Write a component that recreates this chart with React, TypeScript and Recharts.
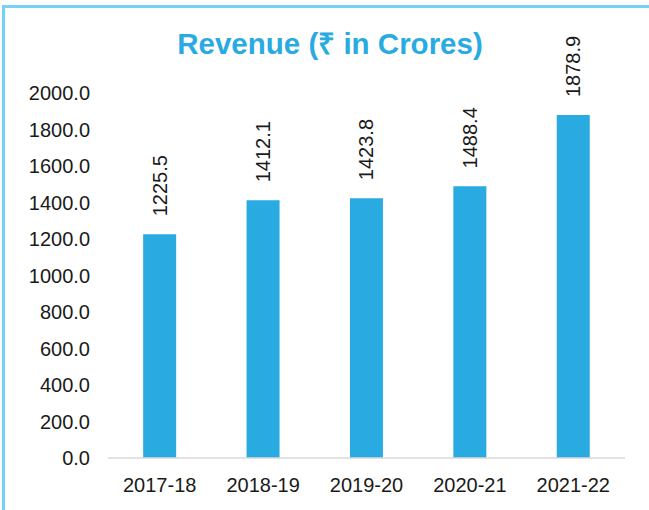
import { BarChart, Bar, XAxis, YAxis, LabelList } from 'recharts'

const years = ['2017-18', '2018-19', '2019-20', '2020-21', '2021-22']
const revenue = [1225.5, 1412.1, 1423.8, 1488.4, 1878.9]
const yTicks = [0, 200, 400, 600, 800, 1000, 1200, 1400, 1600, 1800, 2000]

const data = years.map((y, i) => ({ year: y, value: revenue[i] }))

const FONT = 'Liberation Sans, Arial, sans-serif'

// eslint-disable-next-line @typescript-eslint/no-explicit-any
function RotatedLabel(props: any) {
  const { x, y, width, value } = props
  const cx = x + width / 2
  const ty = y - 18
  return (
    <text
      x={cx}
      y={ty}
      transform={`rotate(-90, ${cx}, ${ty})`}
      textAnchor="start"
      dominantBaseline="central"
      fontFamily={FONT}
      fontSize={20}
      fill="#1a1a1a"
    >
      {Number(value).toFixed(1)}
    </text>
  )
}

export default function App() {
  return (
    <div style={{ position: 'fixed', left: 0, top: 0, width: 649, height: 510, background: '#fff' }}>
      <div
        style={{
          position: 'absolute',
          left: 2,
          top: 5,
          width: 647,
          height: 505,
          borderTop: '3px solid #74d2f6',
          borderLeft: '3px solid #74d2f6',
          boxSizing: 'border-box',
        }}
      />
      <div
        style={{
          position: 'absolute',
          left: 0,
          width: 660,
          top: 22,
          textAlign: 'center',
          fontFamily: FONT,
          fontWeight: 'bold',
          fontSize: 29.5,
          color: '#29abe2',
        }}
      >
        Revenue (₹ in Crores)
      </div>
      <div style={{ position: 'absolute', left: 0, top: 0 }}>
        <BarChart
          width={649}
          height={510}
          data={data}
          margin={{ top: 93, right: 24, left: 0, bottom: 22 }}
          barCategoryGap="34%"
        >
          <XAxis
            dataKey="year"
            tickLine={false}
            axisLine={{ stroke: '#d9d9d9', strokeWidth: 1.5 }}
            tickMargin={14}
            tick={{ fontFamily: FONT, fontSize: 20, fill: '#1a1a1a' }}
          />
          <YAxis
            width={108}
            domain={[0, 2000]}
            ticks={yTicks}
            axisLine={false}
            tickLine={false}
            tickMargin={12}
            tickFormatter={(v) => Number(v).toFixed(1)}
            tick={{ fontFamily: FONT, fontSize: 20, fill: '#1a1a1a' }}
          />
          <Bar dataKey="value" fill="#29abe2" isAnimationActive={false}>
            <LabelList dataKey="value" content={<RotatedLabel />} />
          </Bar>
        </BarChart>
      </div>
    </div>
  )
}
